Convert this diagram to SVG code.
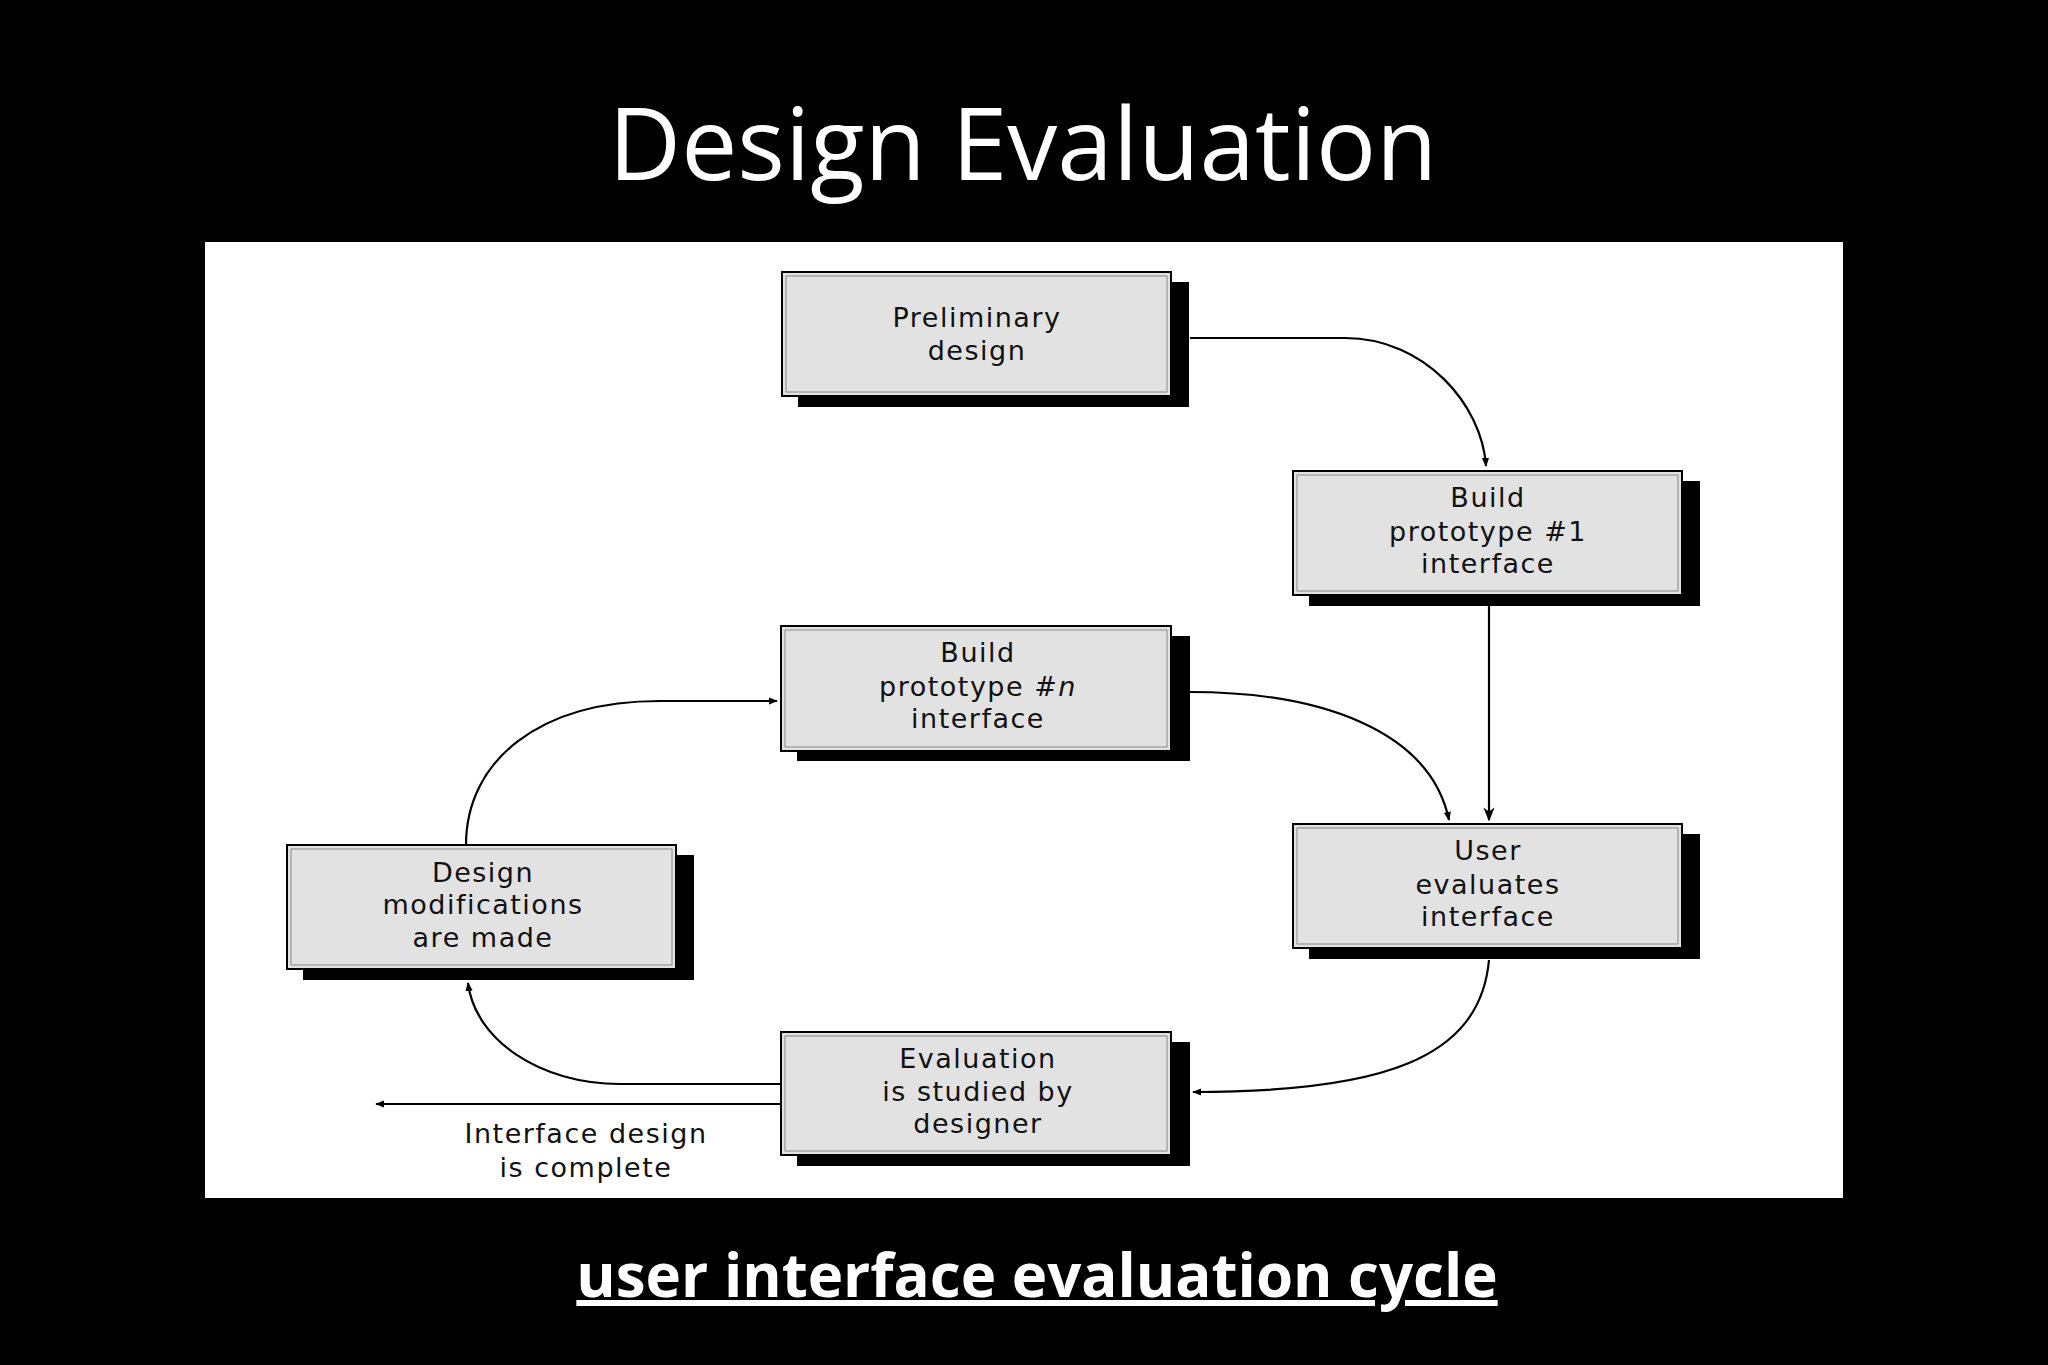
<svg xmlns="http://www.w3.org/2000/svg" width="2048" height="1365" viewBox="0 0 2048 1365">
<defs>
<marker id="ah" viewBox="0 0 10 10" refX="9" refY="5" markerWidth="9" markerHeight="9" markerUnits="userSpaceOnUse" orient="auto"><path d="M0,1 L10,5 L0,9 Z" fill="#000"/></marker>
<marker id="ahb" viewBox="0 0 10 10" refX="9" refY="5" markerWidth="16" markerHeight="14" markerUnits="userSpaceOnUse" orient="auto"><path d="M0,1 L10,5 L0,9 L3,5 Z" fill="#000"/></marker>
</defs>
<style>
.sh{fill:#000}
.bx{fill:#e2e2e2;stroke:#000;stroke-width:2}
.in{fill:none;stroke:#888;stroke-width:1}
.t{font-family:"DejaVu Sans",sans-serif;font-size:27px;letter-spacing:1.5px;text-anchor:middle;fill:#111}
.c{fill:none;stroke:#000;stroke-width:2.2}
</style>
<rect width="2048" height="1365" fill="#000"/>
<text x="1023" y="180" font-family="Open Sans, sans-serif" font-size="100" fill="#fff" text-anchor="middle">Design Evaluation</text>
<rect x="205" y="242" width="1638" height="956" fill="#fff"/>

<g id="prelim"><rect class="sh" x="798" y="282" width="391" height="125"/><rect class="bx" x="782" y="272" width="389" height="124"/><rect class="in" x="786" y="276" width="381" height="116"/>
<text class="t" x="977" y="327">Preliminary</text><text class="t" x="977" y="360">design</text></g>
<g id="build1"><rect class="sh" x="1309" y="481" width="391" height="125"/><rect class="bx" x="1293" y="471" width="389" height="124"/><rect class="in" x="1297" y="475" width="381" height="116"/>
<text class="t" x="1488" y="507">Build</text><text class="t" x="1488" y="541">prototype #1</text><text class="t" x="1488" y="573">interface</text></g>
<g id="buildn"><rect class="sh" x="797" y="636" width="393" height="125"/><rect class="bx" x="781" y="626" width="390" height="125"/><rect class="in" x="785" y="630" width="382" height="117"/>
<text class="t" x="978" y="662">Build</text><text class="t" x="978" y="696">prototype #<tspan font-style="italic">n</tspan></text><text class="t" x="978" y="728">interface</text></g>
<g id="user"><rect class="sh" x="1309" y="834" width="391" height="125"/><rect class="bx" x="1293" y="824" width="389" height="124"/><rect class="in" x="1297" y="828" width="381" height="116"/>
<text class="t" x="1488" y="860">User</text><text class="t" x="1488" y="894">evaluates</text><text class="t" x="1488" y="926">interface</text></g>
<g id="designmod"><rect class="sh" x="303" y="855" width="391" height="125"/><rect class="bx" x="287" y="845" width="389" height="124"/><rect class="in" x="291" y="849" width="381" height="116"/>
<text class="t" x="483" y="882">Design</text><text class="t" x="483" y="914">modifications</text><text class="t" x="483" y="947">are made</text></g>
<g id="eval"><rect class="sh" x="797" y="1042" width="393" height="124"/><rect class="bx" x="781" y="1032" width="390" height="123"/><rect class="in" x="785" y="1036" width="382" height="115"/>
<text class="t" x="978" y="1068">Evaluation</text><text class="t" x="978" y="1101">is studied by</text><text class="t" x="978" y="1133">designer</text></g>

<g id="connectors">
<path class="c" d="M1190 338 H1345 C1425 338 1482 405 1486 466" marker-end="url(#ah)"/>
<path class="c" d="M1489 606 V820" stroke-width="4" marker-end="url(#ahb)"/>
<path class="c" d="M1190 692 C1320 692 1430 730 1449 820" marker-end="url(#ah)"/>
<path class="c" d="M1489 960 C1480 1060 1380 1092 1193 1092" marker-end="url(#ah)"/>
<path class="c" d="M781 1084 H620 C540 1084 475 1040 468 983" marker-end="url(#ah)"/>
<path class="c" d="M466 845 C466 760 540 701 660 701 H777" marker-end="url(#ah)"/>
<path class="c" d="M781 1104 H376" marker-end="url(#ah)"/>
</g>
<text class="t" x="586" y="1143">Interface design</text>
<text class="t" x="586" y="1177">is complete</text>

<text x="1037" y="1297" font-family="Open Sans, sans-serif" font-weight="bold" font-size="60" fill="#fff" text-anchor="middle" text-decoration="underline">user interface evaluation cycle</text>
</svg>
